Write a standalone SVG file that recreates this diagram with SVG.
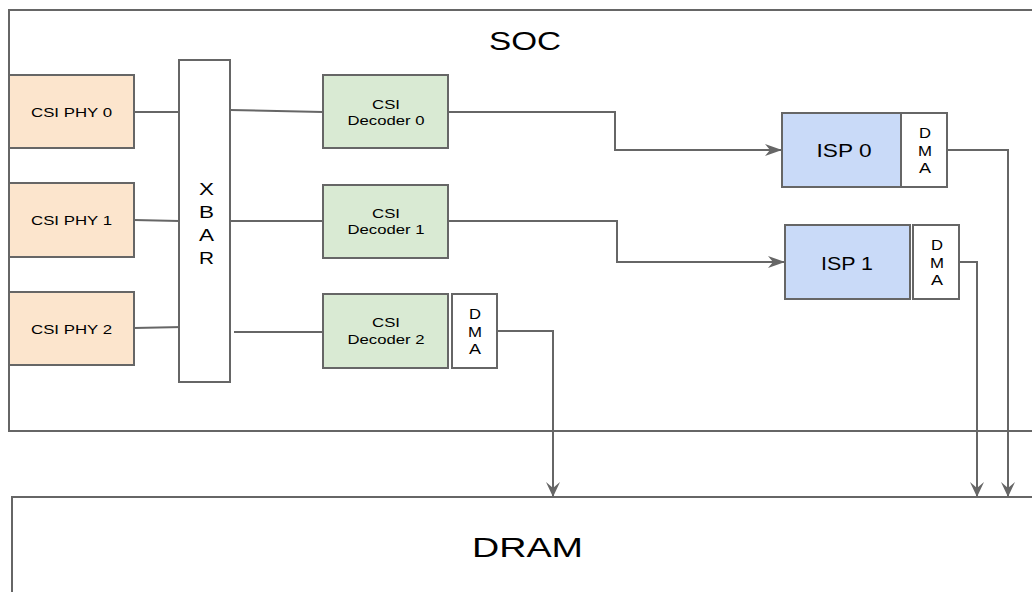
<svg xmlns="http://www.w3.org/2000/svg" width="1032" height="592" viewBox="0 0 1032 592">
<style>
.box{stroke:#666666;stroke-width:2;}
.phy{fill:#fce5cd;}
.dec{fill:#d9ead3;}
.isp{fill:#c9daf8;}
.white{fill:#ffffff;}
.t{font-family:"Liberation Sans",Arial,sans-serif;fill:#000000;text-anchor:middle;}
.d{font-size:14.5px;}
.conn{fill:none;stroke:#666666;stroke-width:2;}
</style>
<defs>
<marker id="arrH" markerUnits="userSpaceOnUse" markerWidth="20" markerHeight="14" refX="17" refY="6" orient="auto" viewBox="0 0 20 12">
<path d="M0,0 L17,6 L0,12 L5,6 Z" fill="#666666"/>
</marker>
<marker id="arrV" markerUnits="userSpaceOnUse" markerWidth="16" markerHeight="16" refX="15" refY="7" orient="auto" viewBox="0 0 16 14">
<path d="M0,0 L15,7 L0,14 L6,7 Z" fill="#666666"/>
</marker>
</defs>
<rect x="0" y="0" width="1032" height="592" fill="#ffffff"/>

<g id="soc">
<rect class="box" x="9" y="10" width="1030" height="421" fill="#ffffff"/>
<text class="t" x="525" y="50" font-size="25" textLength="72" lengthAdjust="spacingAndGlyphs">SOC</text>
</g>

<g id="dram">
<rect class="box" x="12" y="497" width="1030" height="110" fill="#ffffff"/>
<text class="t" x="527.5" y="557" font-size="28" textLength="111" lengthAdjust="spacingAndGlyphs">DRAM</text>
</g>

<g id="connectors">
<path class="conn" d="M134,112 L179,112"/>
<path class="conn" d="M230,110 L323,112"/>
<path class="conn" d="M134,220 L179,221"/>
<path class="conn" d="M230,221 L323,221"/>
<path class="conn" d="M134,328 L183,327"/>
<path class="conn" d="M234,332 L323,332"/>
<path class="conn" d="M448,112 L615,112 L615,150 L782,150" marker-end="url(#arrH)"/>
<path class="conn" d="M448,221 L617,221 L617,262 L785,262" marker-end="url(#arrH)"/>
<path class="conn" d="M497,331 L553,331 L553,497" marker-end="url(#arrV)"/>
<path class="conn" d="M947,150 L1008,150 L1008,497" marker-end="url(#arrV)"/>
<path class="conn" d="M959,262 L977,262 L977,497" marker-end="url(#arrV)"/>
</g>

<g id="csi-phy-0">
<rect class="box phy" x="9" y="75" width="125" height="73"/>
<text class="t" x="71.5" y="117" font-size="13.5" textLength="81" lengthAdjust="spacingAndGlyphs">CSI PHY 0</text>
</g>
<g id="csi-phy-1">
<rect class="box phy" x="9" y="183" width="125" height="74"/>
<text class="t" x="71.5" y="225" font-size="13.5" textLength="81" lengthAdjust="spacingAndGlyphs">CSI PHY 1</text>
</g>
<g id="csi-phy-2">
<rect class="box phy" x="9" y="292" width="125" height="73"/>
<text class="t" x="71.5" y="333.5" font-size="13.5" textLength="81" lengthAdjust="spacingAndGlyphs">CSI PHY 2</text>
</g>

<g id="xbar">
<rect class="box white" x="179" y="60" width="51" height="322"/>
<text class="t" x="206.5" y="195" font-size="17" textLength="15" lengthAdjust="spacingAndGlyphs">X</text>
<text class="t" x="206.5" y="218" font-size="17" textLength="15" lengthAdjust="spacingAndGlyphs">B</text>
<text class="t" x="206.5" y="241" font-size="17" textLength="15" lengthAdjust="spacingAndGlyphs">A</text>
<text class="t" x="206.5" y="264" font-size="17" textLength="15" lengthAdjust="spacingAndGlyphs">R</text>
</g>

<g id="csi-decoder-0">
<rect class="box dec" x="323" y="75" width="125" height="73"/>
<text class="t" x="386" y="108.5" font-size="12.5" textLength="28" lengthAdjust="spacingAndGlyphs">CSI</text>
<text class="t" x="386" y="124.5" font-size="12.5" textLength="77" lengthAdjust="spacingAndGlyphs">Decoder 0</text>
</g>
<g id="csi-decoder-1">
<rect class="box dec" x="323" y="185" width="125" height="73"/>
<text class="t" x="386" y="217.5" font-size="12.5" textLength="28" lengthAdjust="spacingAndGlyphs">CSI</text>
<text class="t" x="386" y="234" font-size="12.5" textLength="77" lengthAdjust="spacingAndGlyphs">Decoder 1</text>
</g>
<g id="csi-decoder-2">
<rect class="box dec" x="323" y="294" width="125" height="74"/>
<text class="t" x="386" y="327" font-size="12.5" textLength="28" lengthAdjust="spacingAndGlyphs">CSI</text>
<text class="t" x="386" y="343.5" font-size="12.5" textLength="77" lengthAdjust="spacingAndGlyphs">Decoder 2</text>
</g>
<g id="dma-decoder-2">
<rect class="box white" x="452" y="294" width="45" height="74"/>
<text class="t d" x="475" y="319" textLength="12" lengthAdjust="spacingAndGlyphs">D</text>
<text class="t d" x="475" y="336.5" textLength="14" lengthAdjust="spacingAndGlyphs">M</text>
<text class="t d" x="475" y="354" textLength="12" lengthAdjust="spacingAndGlyphs">A</text>
</g>

<g id="isp-0">
<rect class="box isp" x="782" y="113" width="119" height="74"/>
<text class="t" x="844" y="157" font-size="18" textLength="55" lengthAdjust="spacingAndGlyphs">ISP 0</text>
</g>
<g id="dma-isp-0">
<rect class="box white" x="901" y="113" width="46" height="74"/>
<text class="t d" x="925" y="138" textLength="12" lengthAdjust="spacingAndGlyphs">D</text>
<text class="t d" x="925" y="155.5" textLength="14" lengthAdjust="spacingAndGlyphs">M</text>
<text class="t d" x="925" y="173" textLength="12" lengthAdjust="spacingAndGlyphs">A</text>
</g>

<g id="isp-1">
<rect class="box isp" x="785" y="225" width="125" height="74"/>
<text class="t" x="847" y="270" font-size="18" textLength="52" lengthAdjust="spacingAndGlyphs">ISP 1</text>
</g>
<g id="dma-isp-1">
<rect class="box white" x="913" y="225" width="46" height="74"/>
<text class="t d" x="937" y="250" textLength="12" lengthAdjust="spacingAndGlyphs">D</text>
<text class="t d" x="937" y="267.5" textLength="14" lengthAdjust="spacingAndGlyphs">M</text>
<text class="t d" x="937" y="285" textLength="12" lengthAdjust="spacingAndGlyphs">A</text>
</g>
</svg>
